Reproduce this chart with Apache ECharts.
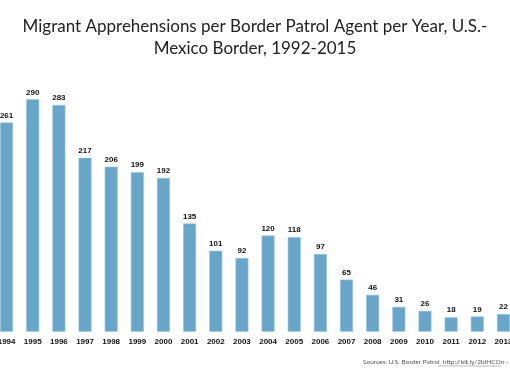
<!DOCTYPE html>
<html>
<head>
<meta charset="utf-8">
<script src="https://cdn.jsdelivr.net/npm/echarts@6/dist/echarts.min.js"></script>
<style>
html,body{margin:0;padding:0;background:#fff;}
#c{width:510px;height:369px;}
</style>
</head>
<body>
<div id="c"></div>
<script>
const years = ['1994','1995','1996','1997','1998','1999','2000','2001','2002','2003','2004','2005','2006','2007','2008','2009','2010','2011','2012','2013'];
const apprehensions = [261,290,283,217,206,199,192,135,101,92,120,118,97,65,46,31,26,18,19,22];
const titleText = 'Migrant Apprehensions per Border Patrol Agent per Year, U.S.-\nMexico Border, 1992-2015';
const sourceText = 'Sources: U.S. Border Patrol  http://bit.ly/2bIHCOn - h';

const chart = echarts.init(document.getElementById('c'), null, {renderer:'canvas'});
chart.setOption({
  backgroundColor:'#ffffff',
  animation:false,
  title:{
    text:titleText,
    left:'center',
    top:11,
    textStyle:{fontFamily:'Lato',fontWeight:'normal',fontSize:17,color:'#222',lineHeight:22}
  },
  grid:{left:-6.5,width:523,top:91.3,bottom:37.3,containLabel:false,outerBoundsMode:'none'},
  xAxis:{
    type:'category',
    data:years,
    axisLine:{show:false},
    axisTick:{show:false},
    axisLabel:{margin:6,fontFamily:'Liberation Sans',fontWeight:'bold',fontSize:8,color:'#111',interval:0,hideOverlap:false}
  },
  yAxis:{type:'value',min:0,max:300,show:false,splitLine:{show:false}},
  series:[{
    type:'bar',
    data:apprehensions,
    barWidth:13,
    itemStyle:{color:'#68a6c9',borderColor:'#9cc6de',borderWidth:0.6},
    label:{show:true,position:'top',distance:3,fontFamily:'Liberation Sans',fontWeight:'bold',fontSize:8,color:'#111'}
  }],
  graphic:[
    {type:'text',left:363,top:358,style:{text:sourceText,fontFamily:'Lato',fontSize:6.5,fill:'#555'}},
    {type:'line',shape:{x1:438,y1:366,x2:501,y2:366},style:{stroke:'#777',lineWidth:0.5}}
  ]
});
</script>
</body>
</html>
